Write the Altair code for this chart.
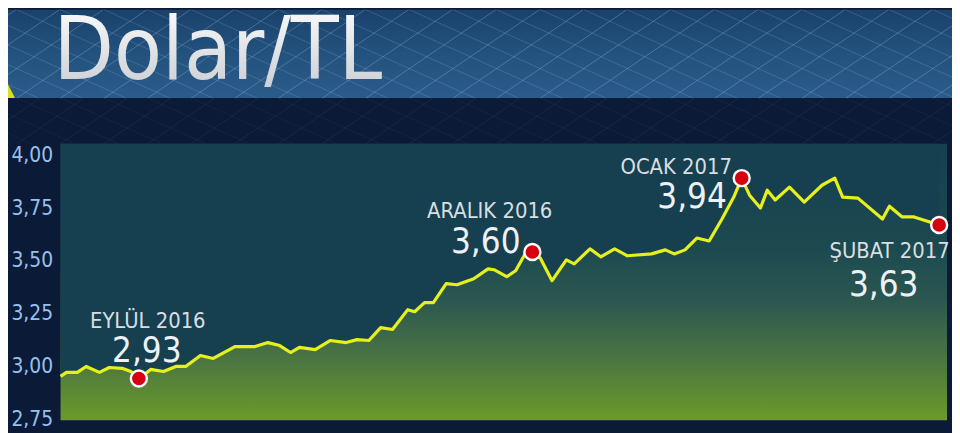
import altair as alt
import pandas as pd

# ---- data ----
baslik = "Dolar/TL"

gun = [0, 1.2, 3.4, 5.2, 7.9, 9.9, 12.5, 14.3, 15.9, 18.3, 20.9, 23.4, 25.4, 28.4,
       31.0, 35.4, 39.5, 42.1, 44.5, 46.7, 48.5, 51.7, 54.8, 58.0, 60.2, 62.6, 65.0,
       67.4, 70.5, 71.9, 73.9, 75.7, 78.3, 80.5, 83.9, 86.8, 88.0, 90.6, 92.4, 94.2,
       95.8, 97.4, 99.8, 102.7, 104.3, 107.5, 109.7, 112.5, 115.1, 120.0, 122.8,
       124.6, 126.8, 129.2, 131.7, 134.3, 136.7, 138.3, 139.9, 142.1, 143.5, 145.1,
       148.0, 151.0, 154.6, 157.2, 158.8, 161.9, 166.9, 168.3, 170.9, 173.3, 178.4]
kur = [2.953, 2.972, 2.972, 3.000, 2.972, 2.995, 2.991, 2.976, 2.943, 2.986, 2.976,
       3.000, 3.000, 3.052, 3.038, 3.094, 3.094, 3.113, 3.099, 3.066, 3.090, 3.080,
       3.123, 3.113, 3.127, 3.123, 3.184, 3.175, 3.269, 3.259, 3.302, 3.302, 3.392,
       3.387, 3.415, 3.462, 3.458, 3.425, 3.453, 3.528, 3.542, 3.514, 3.406, 3.505,
       3.486, 3.557, 3.519, 3.557, 3.524, 3.533, 3.552, 3.533, 3.552, 3.608, 3.594,
       3.698, 3.802, 3.892, 3.811, 3.750, 3.835, 3.788, 3.849, 3.778, 3.858, 3.892,
       3.802, 3.797, 3.698, 3.759, 3.708, 3.708, 3.670]

etiket = ["EYLÜL 2016", "ARALIK 2016", "OCAK 2017", "ŞUBAT 2017"]
etiket_deger = ["2,93", "3,60", "3,94", "3,63"]
nokta_gun = [15.9, 95.8, 138.3, 178.4]
nokta_kur = [2.943, 3.542, 3.892, 3.670]

eksen_degerleri = [2.75, 3.00, 3.25, 3.50, 3.75, 4.00]

# ---- layout ----
W, H = 894, 279
PAD = {"left": 53, "top": 135, "right": 5, "bottom": 11}
FONT = "DejaVu Sans Condensed"
BANNER_BOTTOM = -46

df = pd.DataFrame({"gun": gun, "kur": kur})
pts = pd.DataFrame({"gun": nokta_gun, "kur": nokta_kur,
                    "etiket": etiket, "deger": etiket_deger})
one = pd.DataFrame({"k": [0]})

xs = alt.Scale(domain=[0, 180], nice=False, zero=False)
ys = alt.Scale(domain=[2.745, 4.055], nice=False, zero=False)
x_enc = alt.X("gun:Q", scale=xs, axis=None)
y_enc = alt.Y(
    "kur:Q", scale=ys,
    axis=alt.Axis(values=eksen_degerleri, domain=False, ticks=False, grid=False,
                  title=None, labelColor="#97c1ec", labelFont=FONT,
                  labelFontSize=21, labelPadding=8,
                  labelExpr="replace(format(datum.value, '.2f'), '.', ',')"),
)


def grad(stops):
    return alt.Gradient(gradient="linear", x1=0, x2=0, y1=0, y2=1,
                        stops=[alt.GradientStop(color=c, offset=o) for o, c in stops])


banner = alt.Chart(one).mark_rect(
    fill=grad([(0, "#1a426b"), (0.5, "#23527e"), (1, "#2b5b89")])
).encode(x=alt.value(-PAD["left"]), x2=alt.value(W + PAD["right"]),
         y=alt.value(-PAD["top"]), y2=alt.value(BANNER_BOTTOM))


def mesh(y_top, y_bot, slope, step, opacity, up):
    """decorative diagonal grid lines of the TV backdrop"""
    run = (y_bot - y_top) / slope
    ya, yb = (y_bot, y_top) if up else (y_top, y_bot)
    return alt.Chart(alt.sequence(-12, 30, as_="i")).transform_calculate(
        xa=f"datum.i * {step}", xb=f"datum.i * {step} + {run}"
    ).mark_rule(color="#a6c8ee", opacity=opacity, strokeWidth=1).encode(
        x=alt.X("xa:Q", scale=None), x2="xb:Q",
        y=alt.value(ya), y2=alt.value(yb))


mesh_layers = [
    mesh(-PAD["top"], BANNER_BOTTOM, 0.68, 44, 0.30, True),
    mesh(-PAD["top"], BANNER_BOTTOM, 0.45, 44, 0.20, False),
    mesh(BANNER_BOTTOM, 0, 0.68, 44, 0.08, True),
    mesh(BANNER_BOTTOM, 0, 0.45, 44, 0.06, False),
]

# small yellow corner triangle of the backdrop
corner = alt.Chart(one).mark_point(
    shape="M -1 -1 L 0 1 L -1 1 Z", size=900, filled=True,
    fill="#d9e21c", opacity=1, strokeWidth=0
).encode(x=alt.value(-46), y=alt.value(-61))

panel = alt.Chart(one).mark_rect(
    fill=grad([(0, "#163f50"), (0.38, "#1c4a50"), (0.56, "#2b5650"),
               (0.78, "#4b7541"), (1, "#6b9b28")])
).encode(x=alt.value(0), x2=alt.value(W), y=alt.value(0), y2=alt.value(H))

mask = alt.Chart(df).mark_area(color="#16404f", interpolate="linear").encode(
    x=x_enc, y=y_enc, y2=alt.Y2Datum(4.055))

line = alt.Chart(df).mark_line(color="#e6f01c", strokeWidth=3.2,
                               interpolate="linear", strokeJoin="round").encode(
    x=x_enc, y=y_enc)

dots = alt.Chart(pts).mark_point(filled=True, shape="circle", size=260,
                                 fill="#d6000e", stroke="white",
                                 strokeWidth=2.4, opacity=1).encode(
    x=x_enc, y=y_enc)

title = alt.Chart(one).mark_text(
    align="left", baseline="alphabetic", font=FONT, fontSize=88,
    fill=grad([(0, "#ffffff"), (1, "#c5c9ce")])
).encode(x=alt.value(-7), y=alt.value(-65), text=alt.value(baslik))

# offsets of the labels relative to their dots (px)
ofs = [((9, -58), (8, -28)),
       ((-43, -41), (-47, -10)),
       ((-66, -11), (-50, 19)),
       ((-50, 26), (-56, 61))]

texts = []
for name, ((ldx, ldy), (vdx, vdy)) in zip(etiket, ofs):
    base = alt.Chart(pts).transform_filter(alt.datum.etiket == name)
    texts.append(base.mark_text(font=FONT, fontSize=22, color="#d9dee2",
                                dx=ldx, dy=ldy, baseline="middle").encode(
        x=x_enc, y=y_enc, text="etiket:N"))
    texts.append(base.mark_text(font=FONT, fontSize=35, color="#eef1f3",
                                dx=vdx, dy=vdy, baseline="middle").encode(
        x=x_enc, y=y_enc, text="deger:N"))

chart = alt.layer(banner, *mesh_layers, corner, panel, mask, line, dots, title,
                  *texts).properties(
    width=W, height=H,
    autosize=alt.AutoSizeParams(type="none"),
    padding=PAD,
    background="#0b1a37",
).configure_view(stroke=None)

chart.save("out.html", embed_options={"renderer": "svg", "actions": False})
